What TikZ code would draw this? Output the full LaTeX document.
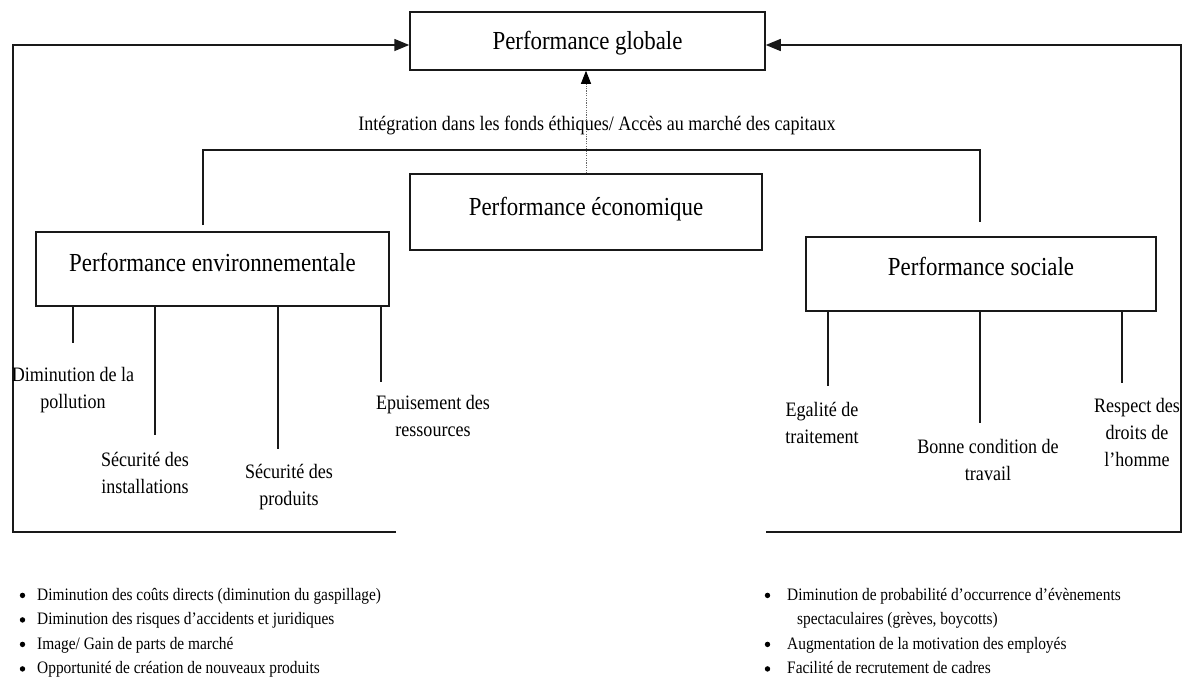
\documentclass[tikz,border=0pt]{standalone}
\usepackage{fontspec}
\setmainfont{Liberation Serif}[FakeStretch=0.88]
\usetikzlibrary{arrows.meta}
\begin{document}
\begin{tikzpicture}[x=1pt,y=-1pt,
  box/.style={draw=black!90, line width=1.5pt, inner sep=0pt, text height=20pt,
    font=\fontsize{26}{30}\selectfont, text=black},
  lbl/.style={align=center, inner sep=0pt, font=\fontsize{20.5}{27}\selectfont, text=black},
  ln/.style={draw=black!90, line width=1.5pt},
  arr/.style={ln, -{Triangle[length=15pt,width=12pt]}},
  dots/.style={draw=black!60, line width=1pt, dash pattern=on 1.2pt off 1.2pt,
    -{Triangle[length=13pt,width=10pt,fill=black,color=black]}},
  item/.style={inner sep=0pt, anchor=base west, font=\fontsize{17.5}{24.5}\selectfont, text=black},
  dot/.style={fill=black}]
\useasboundingbox (0,0) rectangle (1189,678);
\fill[white] (0,0) rectangle (1189,678);

% boxes
\node[box, minimum width=355pt, minimum height=58pt, text depth=4pt] (glob) at (587.5,41) {Performance globale};
\node[box, minimum width=352pt, minimum height=76pt, text depth=14pt] (econ) at (586,212) {Performance économique};
\node[box, minimum width=353pt, minimum height=74pt, text depth=16pt] (env) at (212.5,269) {Performance environnementale};
\node[box, minimum width=350pt, minimum height=74pt, text depth=18pt] (soc) at (981,274) {Performance sociale};

% outer feedback arrows
\coordinate (lb) at (13,532);
\coordinate (le) at (396,532);
\coordinate (rb) at (1181,532);
\coordinate (re) at (766,532);
\draw[arr] (le) -- (lb) |- ([yshift=-4pt]glob.west);
\draw[arr] (re) -- (rb) |- ([yshift=-4pt]glob.east);

% dotted arrow and its label
\draw[dots] (econ.north) -- (econ.north |- glob.south);
\node[lbl] (integ) at (597,125) {Intégration dans les fonds éthiques/ Accès au marché des capitaux};

% bracket joining env and social
\coordinate (bl) at (203,225);
\coordinate (bk) at (590,150);
\coordinate (br) at (980,222);
\draw[ln] (bl) |- (bk) -| (br);

% environmental branches
\coordinate (d1) at (73,343);
\coordinate (d2) at (155,435);
\coordinate (d3) at (278,449);
\coordinate (d4) at (381,382);
\draw[ln] (env.south -| d1) -- (d1);
\draw[ln] (env.south -| d2) -- (d2);
\draw[ln] (env.south -| d3) -- (d3);
\draw[ln] (env.south -| d4) -- (d4);
\node[lbl] (t1) at (73,390) {Diminution de la\\pollution};
\node[lbl] (t2) at (145,473) {Sécurité des\\installations};
\node[lbl] (t3) at (289,487) {Sécurité des\\produits};
\node[lbl] (t4) at (433,416) {Epuisement des\\ressources};

% social branches
\coordinate (s1) at (828,386);
\coordinate (s2) at (980,423);
\coordinate (s3) at (1122,383);
\draw[ln] (soc.south -| s1) -- (s1);
\draw[ln] (soc.south -| s2) -- (s2);
\draw[ln] (soc.south -| s3) -- (s3);
\node[lbl] (t5) at (822,423) {Egalité de\\traitement};
\node[lbl] (t6) at (988,460) {Bonne condition de\\travail};
\node[lbl] (t7) at (1137,432) {Respect des\\droits de\\l’homme};

% bullet lists
\node[item] (L1) at (37,600) {Diminution des coûts directs (diminution du gaspillage)};
\node[item] (L2) at (37,624.5) {Diminution des risques d’accidents et juridiques};
\node[item] (L3) at (37,649) {Image/ Gain de parts de marché};
\node[item] (L4) at (37,673.5) {Opportunité de création de nouveaux produits};
\node[item] (R1) at (787,600) {Diminution de probabilité d’occurrence d’évènements};
\node[item] (R2) at (797,624.5) {spectaculaires (grèves, boycotts)};
\node[item] (R3) at (787,649) {Augmentation de la motivation des employés};
\node[item] (R4) at (787,673.5) {Facilité de recrutement de cadres};
\foreach \n in {L1,L2,L3,L4}
  \fill[dot] ([xshift=-14.5pt,yshift=4.6pt]\n.base west) circle (2.7pt);
\foreach \n in {R1,R3,R4}
  \fill[dot] ([xshift=-19.5pt,yshift=4.6pt]\n.base west) circle (2.7pt);
\end{tikzpicture}
\end{document}
